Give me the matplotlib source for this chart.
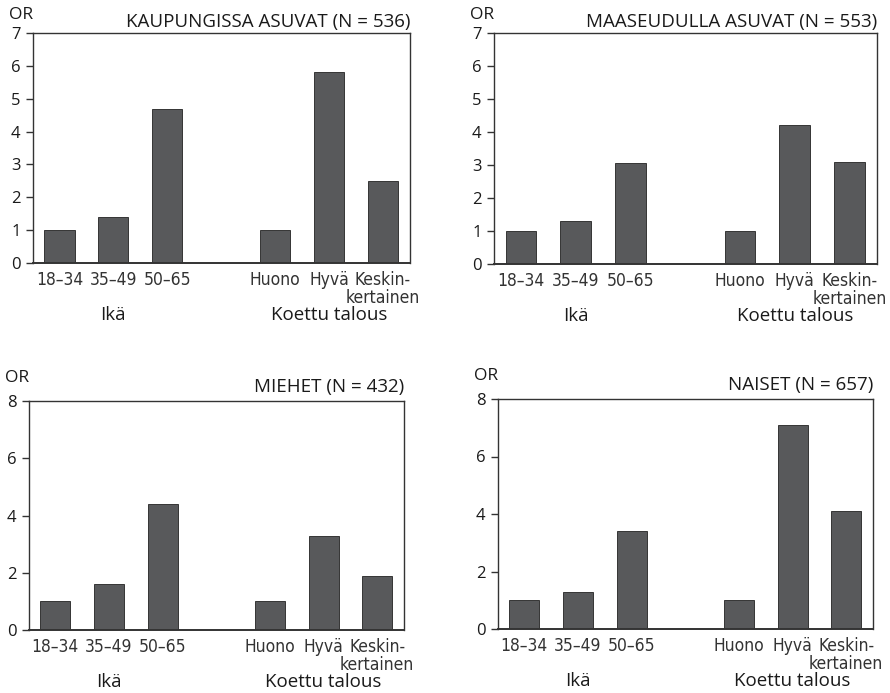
import matplotlib
matplotlib.use('Agg')
import matplotlib.pyplot as plt
from matplotlib import font_manager
import numpy as np

plt.rcParams['font.family'] = ['Open Sans', 'DejaVu Sans']

# ── Data ──────────────────────────────────────────────────────────────────────
CATEGORIES = ['18–34', '35–49', '50–65', 'Huono', 'Hyvä', 'Keskin-\nkertainen']
GROUPS = ['Ikä', 'Koettu talous']
POSITIONS = [0, 1, 2, 4, 5, 6]

TITLES = [
	'KAUPUNGISSA ASUVAT (N = 536)',
	'MAASEUDULLA ASUVAT (N = 553)',
	'MIEHET (N = 432)',
	'NAISET (N = 657)',
]
VALS_KAUPUNKI = [1.0, 1.4, 4.7, 1.0, 5.8, 2.5]
VALS_MAASEUTU = [1.0, 1.3, 3.05, 1.0, 4.2, 3.1]
VALS_MIEHET = [1.0, 1.6, 4.4, 1.0, 3.3, 1.9]
VALS_NAISET = [1.0, 1.3, 3.4, 1.0, 7.1, 4.1]
YMAX = [7, 7, 8, 8]
YTICKS = [list(range(0, 8)), list(range(0, 8)), [0, 2, 4, 6, 8], [0, 2, 4, 6, 8]]

# ── Layout (pixels: left, right, top, bottom) ─────────────────────────────────
W, H = 890, 693
BOXES = [
	(33, 410, 33, 263),
	(494, 877, 33, 264),
	(29, 404, 401, 630),
	(498, 873, 399, 629),
]
OR_DY = [18, 18, 23, 23]      # px above axes top
TITLE_DY = [11, 11, 14, 14]

C_BAR = '#58595b'
C_AX = '#333333'
C_TXT = '#1a1a1a'

# condensed face for the category labels, if one is installed
cond = None
for f in font_manager.fontManager.ttflist:
	if f.stretch in ('condensed', 'semi-condensed') or 'Narrow' in f.name or 'Condensed' in f.name:
		if f.style == 'normal' and f.weight in (400, 'normal', 'regular'):
			cond = f
			break
if cond is not None:
	CAT_FONT = dict(fontproperties=font_manager.FontProperties(fname=cond.fname, size=12.5))
else:
	CAT_FONT = dict(family=['Open Sans'], fontsize=10.5)

fig = plt.figure(figsize=(W / 100, H / 100), dpi=100, facecolor='white')

all_vals = [VALS_KAUPUNKI, VALS_MAASEUTU, VALS_MIEHET, VALS_NAISET]
PT = 72 / 100  # px -> points

for i, (l, r, t, b) in enumerate(BOXES):
	ax = fig.add_axes([l / W, 1 - b / H, (r - l) / W, (b - t) / H])
	ax.bar(POSITIONS, all_vals[i], width=0.56, color=C_BAR,
		edgecolor='#222222', linewidth=0.6, zorder=2)
	ax.set_xlim(-0.49, 6.5)
	ax.set_ylim(0, YMAX[i])
	ax.set_yticks(YTICKS[i])
	ax.tick_params(axis='y', direction='out', length=5, width=1,
		color=C_AX, labelsize=12, labelcolor=C_TXT, pad=4)
	ax.set_xticks(POSITIONS)
	ax.set_xticklabels(CATEGORIES, color='#333333', linespacing=0.95, **CAT_FONT)
	ax.tick_params(axis='x', length=0, pad=6)
	for sp in ax.spines.values():
		sp.set_color(C_AX)
		sp.set_linewidth(1.0)
	ax.spines['bottom'].set_linewidth(1.4)

	# group labels under the tick labels
	for gx, g in zip([1, 5], GROUPS):
		ax.annotate(g, xy=(gx, 0), xycoords=('data', 'axes fraction'),
			xytext=(0, -52 * PT), textcoords='offset points',
			ha='center', va='center', fontsize=13.5, color=C_TXT)

	# title and OR label
	ax.annotate(TITLES[i], xy=(1, 1), xycoords='axes fraction',
		xytext=(0, TITLE_DY[i] * PT), textcoords='offset points',
		ha='right', va='center', fontsize=13.5, color=C_TXT)
	ax.annotate('OR', xy=(0, 1), xycoords='axes fraction',
		xytext=(-24 * PT, OR_DY[i] * PT), textcoords='offset points',
		ha='left', va='center', fontsize=12.5, color=C_TXT)

fig.savefig('out.png', dpi=100, facecolor='white')
